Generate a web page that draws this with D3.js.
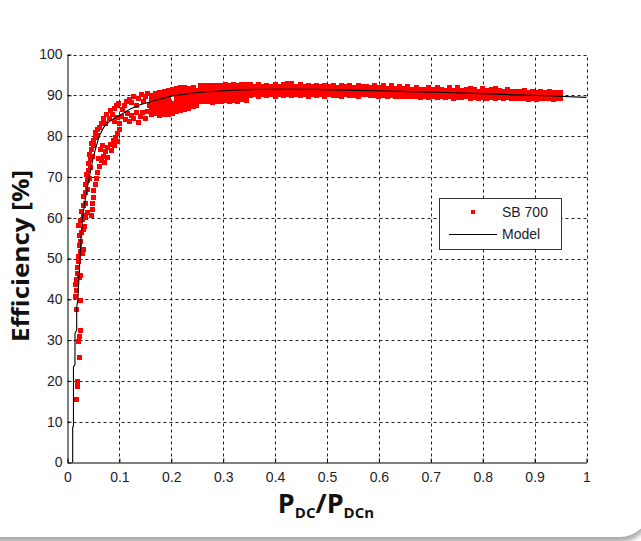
<!DOCTYPE html>
<html>
<head>
<meta charset="utf-8">
<script src="https://d3js.org/d3.v7.min.js"></script>
<style>
  html, body { margin: 0; padding: 0; background: #fff; }
  svg { display: block; }
</style>
</head>
<body>
<svg id="chart" width="641" height="541"></svg>
<script>
// axis ticks
var xTicks = [0, 0.1, 0.2, 0.3, 0.4, 0.5, 0.6, 0.7, 0.8, 0.9, 1];
var xTickLabels = ["0", "0.1", "0.2", "0.3", "0.4", "0.5", "0.6", "0.7", "0.8", "0.9", "1"];
var yTicks = [0, 10, 20, 30, 40, 50, 60, 70, 80, 90, 100];

// SB 700 measurements, scattered part (x = Pdc/Pdcn, y = efficiency %)
var sbSparse = [
  [0.018,15.5],[0.019,18.6],[0.019,19.8],[0.020,19.2],[0.024,25.8],[0.022,29.6],[0.024,30.8],[0.026,32.3],
  [0.017,37.6],[0.025,39.8],[0.016,40.6],[0.017,42.2],[0.016,43.6],[0.018,44.8],[0.024,45.3],[0.026,45.9],
  [0.019,46.4],[0.020,47.8],[0.021,49.2],[0.022,50.6],[0.025,51.6],[0.028,51.2],[0.031,52.3],[0.023,53.2],
  [0.026,54.2],[0.024,55.6],[0.027,56.4],[0.030,57.2],[0.033,57.8],[0.022,58.2],[0.025,59.2],[0.028,59.6],
  [0.031,60.6],[0.035,60.1],[0.038,61.2],[0.027,61.6],
  [0.030,63.0],[0.034,63.6],[0.031,65.2],[0.035,66.2],[0.039,67.0],[0.034,68.2],[0.038,69.2],[0.042,69.6],
  [0.037,70.6],[0.041,71.6],[0.045,72.2],[0.040,73.2],[0.044,74.2],[0.048,75.0],[0.043,75.6],[0.047,76.6],
  [0.051,77.6],[0.046,78.2],[0.050,79.0],[0.054,79.6],[0.058,80.2],[0.053,81.0],[0.057,81.6],[0.062,82.2],
  [0.046,60.6],[0.048,62.0],[0.049,63.6],[0.050,65.0],[0.051,66.6],[0.053,68.2],[0.055,69.6],[0.058,71.2],
  [0.062,72.6],[0.066,74.0],[0.070,75.0],[0.074,76.2],[0.078,77.2],[0.083,78.0],[0.088,78.8],[0.093,79.6],
  [0.097,80.6],[0.101,81.6],[0.072,73.6],[0.078,74.8],[0.084,76.4],[0.090,77.6],[0.096,78.6],[0.060,74.4],
  [0.064,76.6],[0.068,77.8],
  [0.066,83.2],[0.070,84.2],[0.074,83.0],[0.076,85.2],[0.080,84.2],[0.083,86.2],[0.087,85.4],[0.090,86.8],
  [0.095,87.4],[0.099,88.0],[0.090,83.6],[0.095,84.6],[0.100,83.2],[0.104,84.8],[0.106,86.4],[0.110,87.6],
  [0.112,84.0],[0.116,85.6],[0.120,83.6],[0.124,85.0],[0.128,84.2],[0.132,85.8],[0.136,83.4],[0.140,84.8],
  [0.145,85.8],[0.150,84.4],[0.154,86.0],[0.114,88.4],[0.119,89.0],[0.124,88.2],[0.128,89.6],[0.133,87.4],
  [0.137,89.2],[0.142,90.2],[0.146,88.4],[0.150,89.8],[0.155,90.4],[0.158,87.6]
];

// SB 700 measurements, dense band: [x, y1, y2, ...]
var sbBand = [
  [0.162,85.2,86.4,87.6,88.8,90.0],[0.170,85.6,86.8,88.0,89.2,90.4],[0.178,85.0,86.2,87.4,88.6,89.8,90.8],
  [0.186,85.4,86.6,87.8,89.0,90.2,91.0],[0.194,85.2,86.4,87.6,88.8,90.0,91.2],[0.202,85.6,86.8,88.0,90.4,91.4],
  [0.210,86.0,87.2,88.4,89.6,90.8,91.6],[0.218,86.2,87.4,88.6,89.8,91.0,91.8],[0.226,86.4,87.6,88.8,90.0,91.2,92.0],
  [0.234,86.8,88.0,89.2,90.4,91.6],[0.242,87.2,88.4,89.6,90.8,92.0],[0.248,87.6,88.8,90.0,91.2],
  [0.256,88.6,89.6,90.6,91.6,92.4],[0.264,88.4,89.4,90.4,91.4,92.3],[0.272,88.5,89.5,90.5,91.5,92.5],
  [0.280,88.3,89.3,90.3,91.3,92.3],[0.288,88.6,89.6,90.6,91.6,92.5],[0.296,88.4,89.4,90.4,91.4,92.4],
  [0.304,88.7,89.7,90.7,91.7,92.6],[0.312,88.5,89.5,90.5,91.5,92.4],[0.320,88.8,89.8,90.8,91.8,92.6],
  [0.328,88.6,89.6,90.6,91.6,92.5],[0.336,89.0,90.0,91.0,92.0,92.7],[0.344,88.8,89.8,90.8,91.8,92.6],
  [0.352,89.9,90.9,91.9,92.6],[0.360,90.1,91.1,92.1],[0.368,89.8,90.8,91.8,92.6],[0.376,90.2,91.2,92.2],
  [0.384,89.9,90.9,91.9,92.5],[0.392,90.1,91.1,92.1],[0.400,89.8,90.8,91.8,92.6],[0.408,90.2,91.2,92.2],
  [0.416,90.0,91.0,92.0,92.7],[0.424,90.1,91.1,92.1,92.8],[0.432,89.9,90.9,91.9,92.8],[0.440,90.2,91.2,92.2],
  [0.448,89.9,90.9,91.9,92.6],[0.456,90.1,91.1,92.1],[0.464,89.8,90.8,91.8,92.5],[0.472,90.1,91.1,92.1],
  [0.480,89.9,90.9,91.9,92.5],[0.488,90.2,91.2,92.2],[0.496,89.8,90.8,91.8,92.5],[0.504,90.1,91.1,92.1],
  [0.512,89.9,90.9,91.9,92.4],[0.520,90.0,91.0,92.0],[0.528,89.8,90.8,91.8,92.4],[0.536,90.1,91.1,92.1],
  [0.544,89.9,90.9,91.9,92.4],[0.552,90.0,91.0,92.0],[0.560,89.8,90.8,91.8,92.3],[0.568,90.1,91.1,92.1],
  [0.576,90.3,91.2,92.1],[0.584,89.9,90.9,91.9],[0.592,90.0,91.0,92.0,92.5],[0.600,89.8,90.8,91.8],
  [0.608,89.9,90.9,91.9,92.4],[0.616,89.7,90.7,91.7],[0.624,89.9,90.9,91.9,92.3],[0.632,89.7,90.6,91.6],
  [0.640,89.8,90.8,91.8,92.2],[0.648,89.6,90.6,91.6],[0.656,89.8,90.7,91.6,92.1],
  [0.664,89.6,90.5,91.4],[0.672,89.7,90.6,91.5,92.0],[0.680,89.5,90.4,91.3],[0.688,89.7,90.6,91.5],
  [0.696,89.4,90.3,91.2,91.9],[0.704,89.6,90.5,91.4],[0.712,89.5,90.4,91.3,91.9],[0.720,89.7,90.6,91.5],
  [0.728,89.4,90.3,91.2],[0.736,89.6,90.5,91.4,91.8],[0.744,89.3,90.2,91.1],[0.752,89.5,90.4,91.3,91.8],
  [0.760,89.4,90.3,91.2],[0.768,89.6,90.5,91.4],[0.776,89.3,90.2,91.1,91.7],[0.784,89.5,90.4,91.3],
  [0.792,89.2,90.1,91.0],[0.800,89.4,90.3,91.2,91.7],[0.808,89.3,90.2,91.1],[0.816,89.5,90.4,91.3],
  [0.824,89.2,90.1,91.0,91.6],[0.832,89.4,90.3,91.2],[0.840,89.2,90.1,91.0],[0.848,89.4,90.3,91.2,91.5],
  [0.856,89.1,90.0,90.9],
  [0.864,89.3,90.2,91.0],[0.872,89.1,90.0,90.9],[0.880,89.3,90.2,91.1],[0.888,89.0,89.9,90.8],
  [0.896,89.2,90.1,91.0],[0.904,89.0,89.9,90.7],[0.912,89.3,90.2,91.0],[0.920,89.1,90.0,90.8],
  [0.928,89.2,90.1,90.9],[0.936,89.0,89.9,90.7],[0.944,89.2,90.0,90.8],[0.950,89.1,89.9,90.6]
];

// model curve
var modelPts = [
  [0.0100,0],[0.0100,8.6],[0.0115,9.0],[0.0115,23.4],[0.0144,24],[0.0144,31.6],[0.0177,32.5],[0.0177,38],
  [0.020,40],[0.022,45],[0.024,50],[0.026,55],[0.029,60],[0.035,65],[0.042,70],[0.050,75],[0.061,80],
  [0.070,82.2],[0.080,83.5],[0.090,84.4],[0.100,85.0],[0.120,86.6],[0.140,87.7],[0.165,88.6],[0.200,89.8],
  [0.250,90.7],[0.300,91.1],[0.350,91.4],[0.400,91.5],[0.450,91.5],[0.500,91.4],[0.550,91.2],[0.600,91.1],
  [0.660,90.9],[0.730,90.7],[0.800,90.4],[0.865,90.1],[0.920,89.9],[1.000,89.5]
];

var legendItems = ["SB 700", "Model"];

var svg = d3.select("#chart");

// card with a soft shadow under it
var defs = svg.append("defs");
defs.append("filter").attr("id", "shadow")
  .attr("x", "-10%").attr("y", "-10%").attr("width", "120%").attr("height", "120%")
  .append("feGaussianBlur").attr("stdDeviation", 2.5);
svg.append("rect").attr("width", 641).attr("height", 541).attr("fill", "#fff");
svg.append("rect")
  .attr("x", -40).attr("y", -36).attr("width", 690).attr("height", 578)
  .attr("rx", 30).attr("fill", "#a8a8a8").attr("filter", "url(#shadow)");
svg.append("rect")
  .attr("x", -40).attr("y", -40).attr("width", 690).attr("height", 577)
  .attr("rx", 30).attr("fill", "#fff");

var x = d3.scaleLinear().domain([0, 1]).range([67.5, 586.5]);
var y = d3.scaleLinear().domain([0, 100]).range([462.5, 54.5]);

var font = "'Liberation Sans', Arial, sans-serif";

// grid
var grid = svg.append("g").attr("stroke", "#222").attr("stroke-width", 1)
  .attr("stroke-dasharray", "3,3").attr("fill", "none");
grid.selectAll(".gx").data(xTicks.slice(1)).enter().append("line")
  .attr("x1", function(d) { return Math.round(x(d)) + 0.5; })
  .attr("x2", function(d) { return Math.round(x(d)) + 0.5; })
  .attr("y1", y(0)).attr("y2", y(100));
grid.selectAll(".gy").data(yTicks.slice(1)).enter().append("line")
  .attr("y1", function(d) { return Math.round(y(d)) + 0.5; })
  .attr("y2", function(d) { return Math.round(y(d)) + 0.5; })
  .attr("x1", x(0)).attr("x2", x(1));

// measured points
var pts = sbSparse.slice();
sbBand.forEach(function(c) {
  for (var i = 1; i < c.length; i++) pts.push([c[0], c[i]]);
});
var ms = 5;
svg.append("g").attr("fill", "#ff0000").attr("shape-rendering", "crispEdges")
  .selectAll("rect").data(pts).enter().append("rect")
    .attr("x", function(d) { return x(d[0]) - ms / 2; })
    .attr("y", function(d) { return y(d[1]) - ms / 2; })
    .attr("width", ms).attr("height", ms);

// model line
svg.append("path").datum(modelPts)
  .attr("fill", "none").attr("stroke", "#000").attr("stroke-width", 1.1)
  .attr("d", d3.line()
    .x(function(d) { return x(d[0]); })
    .y(function(d) { return y(d[1]); }));

// axes
var xAxis = svg.append("g").attr("transform", "translate(0," + y(0) + ")")
  .call(d3.axisBottom(x).tickValues(xTicks)
    .tickFormat(function(d, i) { return xTickLabels[i]; })
    .tickSizeInner(-4).tickSizeOuter(0).tickPadding(10));
var yAxis = svg.append("g").attr("transform", "translate(" + x(0) + ",0)")
  .call(d3.axisLeft(y).tickValues(yTicks)
    .tickSizeInner(-4).tickSizeOuter(0).tickPadding(5));
[xAxis, yAxis].forEach(function(a) {
  a.select(".domain").attr("stroke", "#000");
  a.selectAll(".tick line").attr("stroke", "#000");
  a.selectAll("text").attr("font-family", font).attr("font-size", 14).attr("fill", "#1c1c2c");
});

// axis titles
var xt = svg.append("text").attr("x", 326).attr("y", 513)
  .attr("text-anchor", "middle").attr("font-family", "'Open Sans', sans-serif")
  .attr("font-weight", "bold").attr("fill", "#111");
xt.append("tspan").attr("font-size", 27).text("P");
xt.append("tspan").attr("font-size", 15).attr("dy", 5).text("DC");
xt.append("tspan").attr("font-size", 27).attr("dy", -5).text("/P");
xt.append("tspan").attr("font-size", 15).attr("dy", 5).text("DCn");

svg.append("text")
  .attr("transform", "translate(29,256) rotate(-90)")
  .attr("text-anchor", "middle").attr("font-family", "'Open Sans', sans-serif")
  .attr("font-weight", "bold").attr("font-size", 23).attr("fill", "#111")
  .attr("textLength", 172).attr("lengthAdjust", "spacingAndGlyphs")
  .text("Efficiency [%]");

// legend
var lg = svg.append("g");
lg.append("rect").attr("x", 439.5).attr("y", 198.5).attr("width", 122).attr("height", 51)
  .attr("fill", "#fff").attr("stroke", "#333").attr("stroke-width", 1);
lg.append("rect").attr("x", 471).attr("y", 210).attr("width", 4).attr("height", 4).attr("fill", "#ff0000");
lg.append("line").attr("x1", 449).attr("x2", 497).attr("y1", 234.5).attr("y2", 234.5)
  .attr("stroke", "#000").attr("stroke-width", 1);
lg.selectAll("text").data(legendItems).enter().append("text")
  .attr("x", 502).attr("y", function(d, i) { return 217 + i * 22; })
  .attr("font-family", font).attr("font-size", 14).attr("fill", "#1c1c2c")
  .text(function(d) { return d; });
</script>
</body>
</html>
